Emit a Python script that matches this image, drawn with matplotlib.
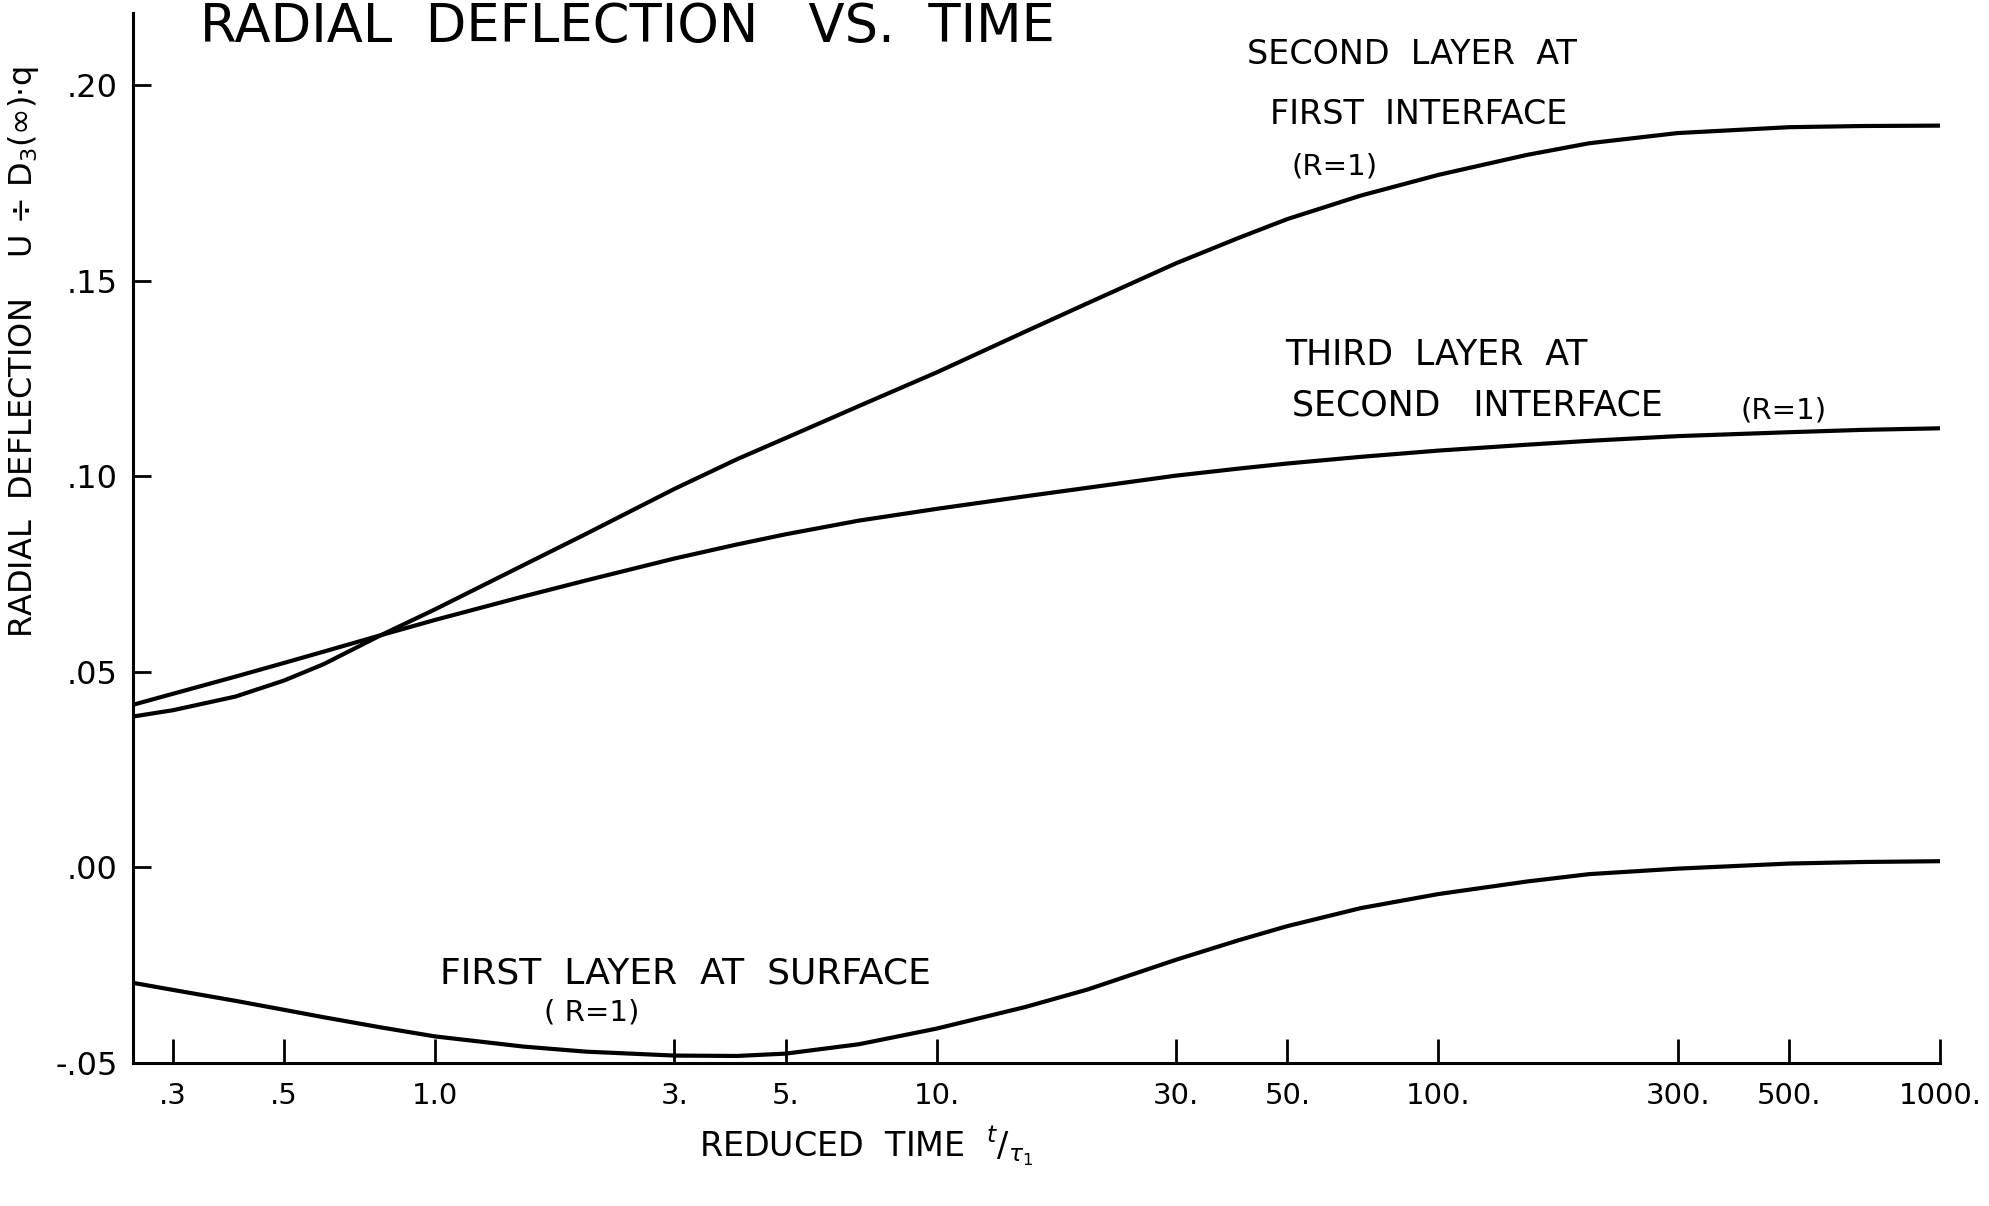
import matplotlib
matplotlib.use("Agg")
import matplotlib.pyplot as plt

# ---- data (x: reduced time t/tau1, y: U / (D3(inf)*q)) ----
t = [0.25, 0.3, 0.4, 0.5, 0.6, 0.78, 1.0, 1.5, 2.0, 3.0, 4.0, 5.0, 7.0, 10.0, 15.0, 20.0,
     30.0, 40.0, 50.0, 70.0, 100.0, 150.0, 200.0, 300.0, 500.0, 700.0, 1000.0]

u_second_layer = [0.0386, 0.0402, 0.0437, 0.0478, 0.0520, 0.0594, 0.0660, 0.0773, 0.0853, 0.0968,
                  0.1044, 0.1098, 0.1180, 0.1266, 0.1370, 0.1443, 0.1545, 0.1610, 0.1658, 0.1718,
                  0.1771, 0.1822, 0.1852, 0.1878, 0.1893, 0.1896, 0.1897]

u_third_layer = [0.0416, 0.0444, 0.0488, 0.0523, 0.0552, 0.0594, 0.0633, 0.0693, 0.0734, 0.0790,
                 0.0826, 0.0852, 0.0887, 0.0917, 0.0949, 0.0971, 0.1002, 0.1020, 0.1033, 0.1050,
                 0.1066, 0.1081, 0.1091, 0.1103, 0.1113, 0.1119, 0.1123]

u_first_layer = [-0.0295, -0.0313, -0.0341, -0.0364, -0.0383, -0.0409, -0.0432, -0.0458, -0.0471,
                 -0.0481, -0.0482, -0.0476, -0.0452, -0.0412, -0.0357, -0.0312, -0.0236, -0.0186,
                 -0.0150, -0.0104, -0.0068, -0.0036, -0.0017, -0.0003, 0.0010, 0.0014, 0.0016]

x_ticks = [0.3, 0.5, 1.0, 3.0, 5.0, 10.0, 30.0, 50.0, 100.0, 300.0, 500.0, 1000.0]
x_tick_labels = [".3", ".5", "1.0", "3.", "5.", "10.", "30.", "50.", "100.", "300.", "500.", "1000."]
y_ticks = [-0.05, 0.00, 0.05, 0.10, 0.15, 0.20]
y_tick_labels = ["-.05", ".00", ".05", ".10", ".15", ".20"]

W, H = 1990, 1206
plt.rcParams['font.family'] = ['DejaVu Sans']
fig = plt.figure(figsize=(W / 100, H / 100), dpi=100)
fig.patch.set_facecolor('white')

left_px, right_px, bottom_px, top_px = 133, 1940, 1063, 13
ax = fig.add_axes([left_px / W, 1 - bottom_px / H, (right_px - left_px) / W, (bottom_px - top_px) / H])
ax.set_xscale('log')
ax.set_xlim(0.25, 1000)
ax.set_ylim(-0.05, 0.2185)

lw = 3.0
for series in (u_second_layer, u_third_layer, u_first_layer):
    ax.plot(t, series, color='black', lw=lw, solid_capstyle='round', solid_joinstyle='round')

for s in ['top', 'right']:
    ax.spines[s].set_visible(False)
for s in ['left', 'bottom']:
    ax.spines[s].set_linewidth(2.2)
    ax.spines[s].set_color('black')

ax.set_xticks(x_ticks)
ax.set_xticklabels(x_tick_labels)
ax.xaxis.set_minor_locator(matplotlib.ticker.NullLocator())
ax.set_yticks(y_ticks)
ax.set_yticklabels(y_tick_labels)
ax.tick_params(axis='x', direction='in', length=17, width=2.0, pad=14, labelsize=21)
ax.tick_params(axis='y', direction='in', length=13, width=2.0, pad=11, labelsize=23)

# title at the very top of the sheet
fig.text(200 / W, 1 - 42 / H, "RADIAL  DEFLECTION   VS.  TIME", ha='left', va='baseline',
         fontsize=38, color='black')

# axis labels
fig.text(24 / W, 1 - 352 / H, "RADIAL  DEFLECTION    U ÷ D$_3$(∞)·q", rotation=90,
         ha='center', va='center', fontsize=23, color='black')
fig.text(866 / W, 1 - 1146 / H, r"REDUCED  TIME  $^{t}/_{\tau_1}$", ha='center', va='center',
         fontsize=24, color='black')

# curve annotations
fs = 24
fig.text(1412 / W, 1 - 55 / H, "SECOND  LAYER  AT", ha='center', va='center', fontsize=fs)
fig.text(1419 / W, 1 - 114 / H, "FIRST  INTERFACE", ha='center', va='center', fontsize=fs)
fig.text(1335 / W, 1 - 167 / H, "(R=1)", ha='center', va='center', fontsize=fs - 3)
fig.text(1436 / W, 1 - 355 / H, "THIRD  LAYER  AT", ha='center', va='center', fontsize=fs + 1)
fig.text(1292 / W, 1 - 405 / H, "SECOND   INTERFACE", ha='left', va='center', fontsize=fs + 1)
fig.text(1784 / W, 1 - 410 / H, "(R=1)", ha='center', va='center', fontsize=fs - 3)
fig.text(685 / W, 1 - 974 / H, "FIRST  LAYER  AT  SURFACE", ha='center', va='center', fontsize=fs + 2)
fig.text(592 / W, 1 - 1012 / H, "( R=1)", ha='center', va='center', fontsize=fs - 3)

fig.savefig("out.png", dpi=100, facecolor='white')
